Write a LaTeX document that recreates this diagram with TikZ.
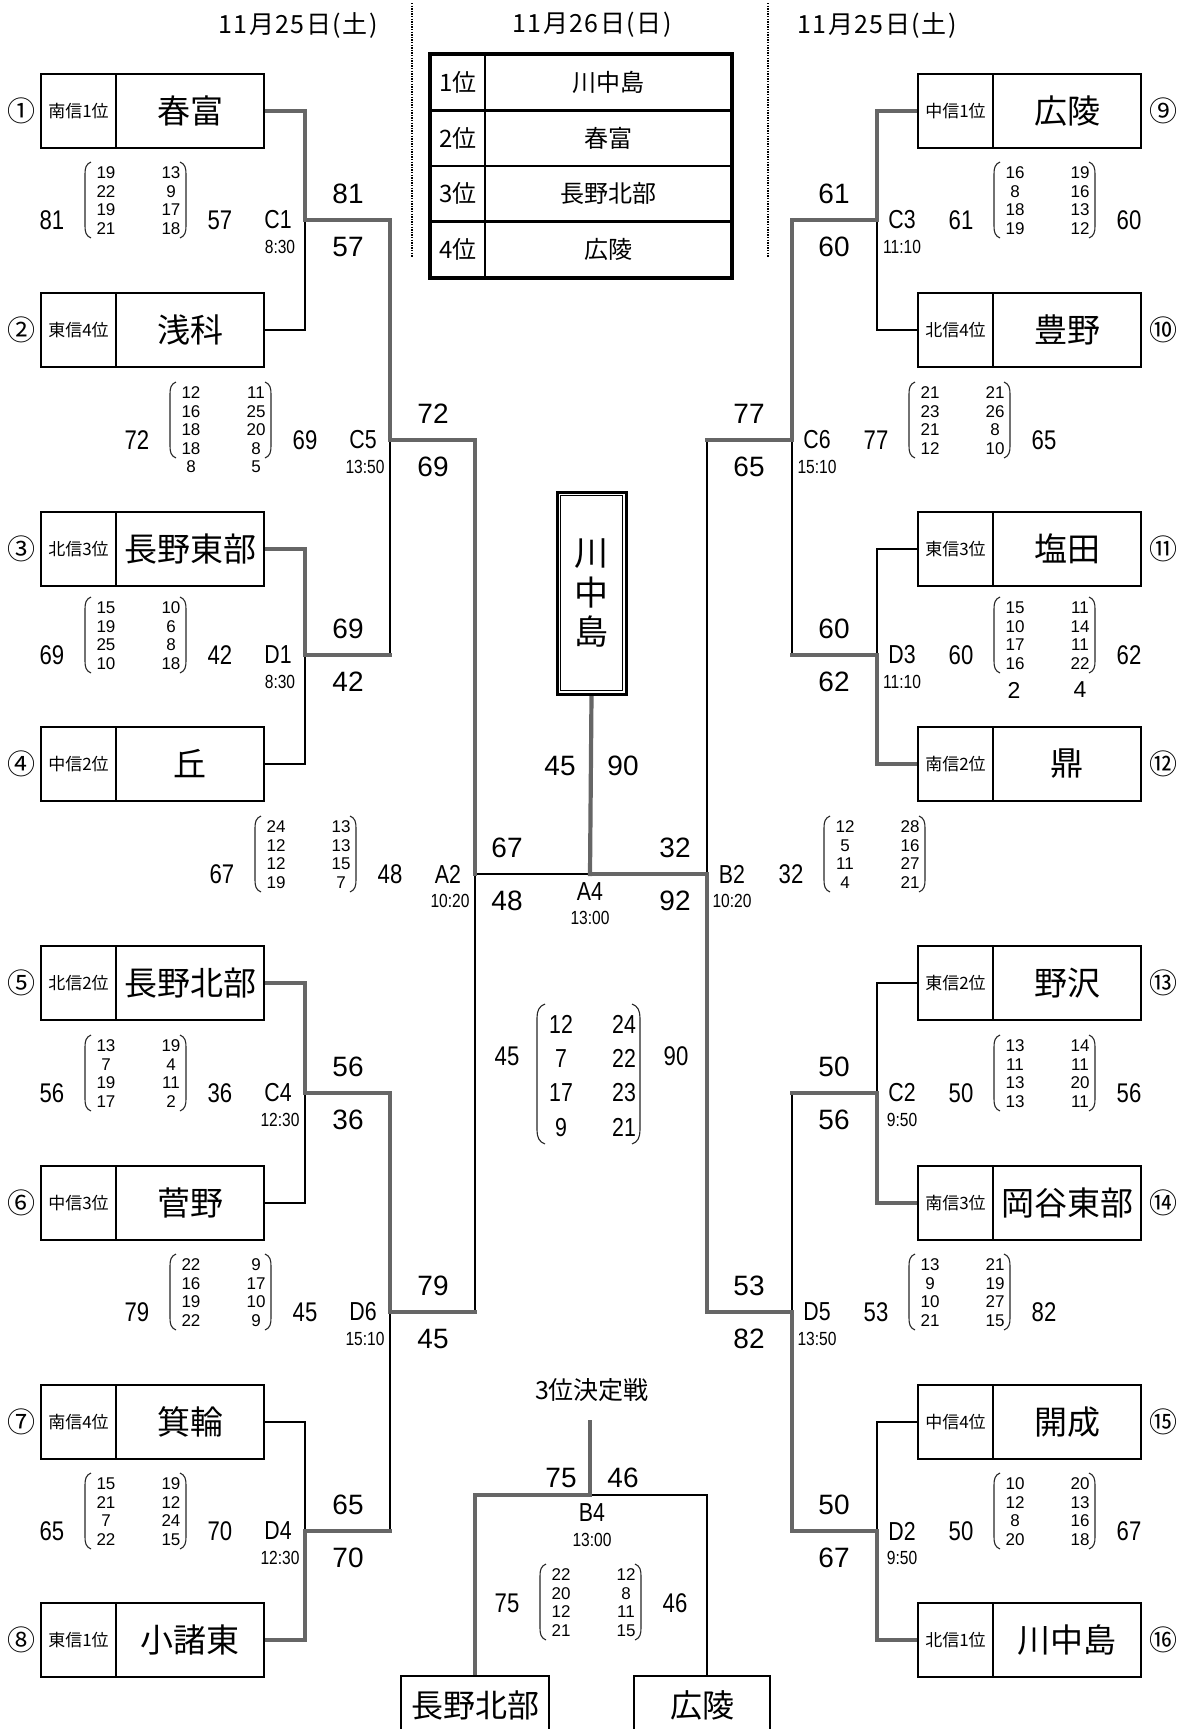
\documentclass[tikz,border=0pt]{standalone}
\usepackage{fontspec}
\setmainfont{Liberation Sans}
\newfontfamily\jp{Noto Sans CJK JP}
\newfontfamily\jphdr[LetterSpace=6]{Noto Sans CJK JP}
\newfontfamily\narrow[FakeStretch=0.82]{Liberation Sans}
\usetikzlibrary{backgrounds}
\definecolor{wingray}{RGB}{102,102,102}
\tikzset{
 win/.style={draw=wingray, line width=4.2pt, line cap=rect},
 lose/.style={draw=black, line width=2.6pt, line cap=rect},
 lab/.style={draw, fill=white, line width=2.6pt, minimum width=75pt, minimum height=74pt, inner sep=0pt, font=\jp\fontsize{17}{17}\selectfont},
 nam/.style={draw, fill=white, line width=2.6pt, minimum width=148pt, minimum height=74pt, inner sep=0pt, font=\jp\fontsize{33}{33}\selectfont},
 circ/.style={inner sep=0pt, font=\jp\fontsize{28}{28}\selectfont},
 score/.style={inner sep=0pt, font=\fontsize{28}{28}\selectfont},
 tot/.style={inner sep=0pt, font=\narrow\fontsize{27}{27}\selectfont},
 setn/.style={inner sep=0pt, font=\fontsize{17}{17}\selectfont},
 setbig/.style={inner sep=0pt, font=\narrow\fontsize{26}{26}\selectfont},
 mlab/.style={inner sep=0pt, font=\narrow\fontsize{26}{26}\selectfont},
 mtime/.style={inner sep=0pt, font=\narrow\fontsize{19}{19}\selectfont},
 paren/.style={draw=black!85, line width=1.1pt},
 hdr/.style={inner sep=0pt, font=\jphdr\fontsize{25}{25}\selectfont},
 ttl/.style={inner sep=0pt, font=\jp\fontsize{25}{25}\selectfont},
 cell/.style={draw, line width=2.4pt, minimum height=55.5pt, inner sep=0pt, font=\jp\fontsize{24}{24}\selectfont},
 bot/.style={draw, fill=white, line width=2.6pt, minimum height=58pt, inner sep=0pt, font=\jp\fontsize{32}{32}\selectfont},
 dotline/.style={draw=black, line width=2.4pt, dash pattern=on 1.4pt off 1.2pt}
}
\newcommand\lteam[5]{%
 \node[lab] (l#1) at (78.5,#2) {#4};
 \node[nam] (n#1) at (190,#2) {#5};
 \node[circ] (c#1) at (21,#2) {#3};}
\newcommand\rteam[5]{%
 \node[lab] (l#1) at (955.5,#2) {#4};
 \node[nam] (n#1) at (1067,#2) {#5};
 \node[circ] (c#1) at (1163,#2) {#3};}
\newcommand\mset[8]{%
 \node[tot] (#1lt) at (#2,#3) {#5};
 \if\relax\detokenize{#8}\relax\else\node[tot] (#1rt) at (#2+168,#3) {#8};\fi
 \foreach \v [count=\i] in {#6}{\node[setn] (#1l\i) at (#2+54,#4-65.5+18.5*\i) {\v};}
 \foreach \v [count=\i] in {#7}{\node[setn] (#1r\i) at (#2+119,#4-65.5+18.5*\i) {\v};}
 \draw[paren] (#2+39,#4-58) .. controls (#2+34,#4-56) and (#2+33,#4-52) .. (#2+33,#4-46) -- (#2+33,#4+6) .. controls (#2+33,#4+12) and (#2+34,#4+16) .. (#2+39,#4+18);
 \draw[paren] (#2+128,#4-58) .. controls (#2+133,#4-56) and (#2+134,#4-52) .. (#2+134,#4-46) -- (#2+134,#4+6) .. controls (#2+134,#4+12) and (#2+133,#4+16) .. (#2+128,#4+18);}
\newcommand\bsc[5]{\node[score] (#1a) at (#2,#3-26) {#4}; \node[score] (#1b) at (#2,#3+27) {#5};}
\newcommand\mlabL[5]{\node[mlab] (#1) at (#2-27,#3) {#4}; \node[mtime] (#1t) at (#2-25,#3+27) {#5};}
\newcommand\mlabR[5]{\node[mlab] (#1) at (#2+25,#3) {#4}; \node[mtime] (#1t) at (#2+25,#3+27) {#5};}
\begin{document}
\begin{tikzpicture}[x=1pt,y=-1pt]
\useasboundingbox (0,0) rectangle (1186,1729);
% headers
\node[hdr] (hd1) at (298,25) {11月25日(土)};
\node[hdr] (hd2) at (592,25) {11月26日(日)};
\node[hdr] (hd3) at (877,25) {11月25日(土)};
\draw[dotline] (412,3) -- (412,257);
\draw[dotline] (768,3) -- (768,257);
% standings table
\foreach \r/\nm [count=\k] in {1位/川中島,2位/春富,3位/長野北部,4位/広陵}{
 \node[cell, minimum width=54pt] (t\k a) at (458,55+55.5*\k-27.75) {\r};
 \node[cell, minimum width=246pt] (t\k b) at (608,55+55.5*\k-27.75) {\nm};}
\draw[line width=4pt] (t1a.north west) rectangle (t4b.south east);
% teams
\lteam{1}{111}{①}{南信1位}{春富}
\lteam{2}{330}{②}{東信4位}{浅科}
\lteam{3}{549}{③}{北信3位}{長野東部}
\lteam{4}{764}{④}{中信2位}{丘}
\lteam{5}{983}{⑤}{北信2位}{長野北部}
\lteam{6}{1203}{⑥}{中信3位}{菅野}
\lteam{7}{1422}{⑦}{南信4位}{箕輪}
\lteam{8}{1640}{⑧}{東信1位}{小諸東}
\rteam{9}{111}{⑨}{中信1位}{広陵}
\rteam{10}{330}{⑩}{北信4位}{豊野}
\rteam{11}{549}{⑪}{東信3位}{塩田}
\rteam{12}{764}{⑫}{南信2位}{鼎}
\rteam{13}{983}{⑬}{東信2位}{野沢}
\rteam{14}{1203}{⑭}{南信3位}{岡谷東部}
\rteam{15}{1422}{⑮}{中信4位}{開成}
\rteam{16}{1640}{⑯}{北信1位}{川中島}
% champion
\node[draw, fill=white, line width=3pt, minimum width=69pt, minimum height=202pt, inner sep=0pt, align=center, font=\jp\fontsize{34}{39.5}\selectfont] (champ) at (591.5,593) {川\\中\\島};
\draw[line width=1.3pt] ([shift={(5pt,-5pt)}]champ.north west) rectangle ([shift={(-5pt,5pt)}]champ.south east);
% bottom boxes
\node[bot, minimum width=148pt] (nb1) at (475,1705) {長野北部};
\node[bot, minimum width=136pt] (nb2) at (702,1705) {広陵};
% junctions
\coordinate (C1) at (305,220); \coordinate (D1) at (305,655);
\coordinate (C4) at (305,1093); \coordinate (D4) at (305,1531);
\coordinate (C5) at (390,440); \coordinate (D6) at (390,1312);
\coordinate (A2) at (475,874); \coordinate (A4) at (590,874);
\coordinate (C3) at (877,220); \coordinate (D3) at (877,655);
\coordinate (C2) at (877,1093); \coordinate (D2) at (877,1531);
\coordinate (C6) at (792,440); \coordinate (D5) at (792,1312);
\coordinate (B2) at (707,874);
\coordinate (B4) at (590,1495); \coordinate (B4top) at (590,1422);
\begin{pgfonlayer}{background}
\draw[lose] (n2.east) -| (C1);
\draw[lose] (n4.east) -| (D1);
\draw[lose] (n6.east) -| (C4);
\draw[lose] (n7.east) -| (D4);
\draw[lose] (l10.west) -| (C3);
\draw[lose] (l11.west) -| (D3);
\draw[lose] (l13.west) -| (C2);
\draw[lose] (l15.west) -| (D2);
\draw[lose] (D1 -| C5) -- (C5);
\draw[lose] (D4 -| D6) -- (D6);
\draw[lose] (D6 -| A2) -- (A2);
\draw[lose] (A2) -- (A4);
\draw[lose] (D3 -| C6) -- (C6);
\draw[lose] (C2 -| D5) -- (D5);
\draw[lose] (C6 -| B2) -- (B2);
\draw[lose] (B4) -| ([xshift=5pt]nb2.north);
\draw[win] (n1.east) -| (C1);
\draw[win] (n3.east) -| (D1);
\draw[win] (n5.east) -| (C4);
\draw[win] (n8.east) -| (D4);
\draw[win] (l9.west) -| (C3);
\draw[win] (l12.west) -| (D3);
\draw[win] (l14.west) -| (C2);
\draw[win] (l16.west) -| (D2);
\draw[win] (C1) -| (C5);
\draw[win] (D1) -- (D1 -| C5);
\draw[win] (C4) -| (D6);
\draw[win] (D4) -- (D4 -| D6);
\draw[win] (C5) -| (A2);
\draw[win] (D6) -- (D6 -| A2);
\draw[win] (C3) -| (C6);
\draw[win] (D3) -- (D3 -| C6);
\draw[win] (C2) -- (C2 -| D5);
\draw[win] (D2) -| (D5);
\draw[win] (C6) -- (C6 -| B2);
\draw[win] (D5) -| (B2);
\draw[win] (B2) -- (A4);
\draw[win] (A4) -- (champ.south);
\draw[win] (B4top) -- (B4) -| (nb1.north);
\end{pgfonlayer}
% bracket scores
\bsc{scC1}{348}{220}{81}{57}
\bsc{scC5}{433}{440}{72}{69}
\bsc{scD1}{348}{655}{69}{42}
\bsc{scA2}{507}{874}{67}{48}
\bsc{scC4}{348}{1093}{56}{36}
\bsc{scD6}{433}{1312}{79}{45}
\bsc{scD4}{348}{1531}{65}{70}
\bsc{scC3}{834}{220}{61}{60}
\bsc{scC6}{749}{440}{77}{65}
\bsc{scD3}{834}{655}{60}{62}
\bsc{scB2}{675}{874}{32}{92}
\bsc{scC2}{834}{1093}{50}{56}
\bsc{scD5}{749}{1312}{53}{82}
\bsc{scD2}{834}{1531}{50}{67}
% match labels
\mlabL{lbC1}{305}{220}{C1}{8:30}
\mlabL{lbC5}{390}{440}{C5}{13:50}
\mlabL{lbD1}{305}{655}{D1}{8:30}
\mlabL{lbA2}{475}{874}{A2}{10:20}
\mlabL{lbC4}{305}{1093}{C4}{12:30}
\mlabL{lbD6}{390}{1312}{D6}{15:10}
\mlabL{lbD4}{305}{1531}{D4}{12:30}
\mlabR{lbC3}{877}{220}{C3}{11:10}
\mlabR{lbC6}{792}{440}{C6}{15:10}
\mlabR{lbD3}{877}{655}{D3}{11:10}
\mlabR{lbB2}{707}{874}{B2}{10:20}
\mlabR{lbC2}{877}{1093}{C2}{9:50}
\mlabR{lbD5}{792}{1312}{D5}{13:50}
\mlabR{lbD2}{877}{1531}{D2}{9:50}
\node[mlab] (lbA4) at (590,892) {A4};
\node[mtime] (lbA4t) at (590,918) {13:00};
\node[mlab] (lbB4) at (592,1513) {B4};
\node[mtime] (lbB4t) at (592,1540) {13:00};
% set scores
\mset{sC1}{52}{220}{220}{81}{19,22,19,21}{13,9,17,18}{57}
\mset{sC5}{137}{440}{440}{72}{12,16,18,18,8}{11,25,20,8,5}{69}
\mset{sD1}{52}{655}{655}{69}{15,19,25,10}{10,6,8,18}{42}
\mset{sA2}{222}{874}{874}{67}{24,12,12,19}{13,13,15,7}{48}
\mset{sC4}{52}{1093}{1093}{56}{13,7,19,17}{19,4,11,2}{36}
\mset{sD6}{137}{1312}{1312}{79}{22,16,19,22}{9,17,10,9}{45}
\mset{sD4}{52}{1531}{1531}{65}{15,21,7,22}{19,12,24,15}{70}
\mset{sC3}{961}{220}{220}{61}{16,8,18,19}{19,16,13,12}{60}
\mset{sC6}{876}{440}{440}{77}{21,23,21,12}{21,26,8,10}{65}
\mset{sD3}{961}{655}{655}{60}{15,10,17,16}{11,14,11,22}{62}
\mset{sB2}{791}{874}{874}{32}{12,5,11,4}{28,16,27,21}{}
\mset{sC2}{961}{1093}{1093}{50}{13,11,13,13}{14,11,20,11}{56}
\mset{sD5}{876}{1312}{1312}{53}{13,9,10,21}{21,19,27,15}{82}
\mset{sD2}{961}{1531}{1531}{50}{10,12,8,20}{20,13,16,18}{67}
\mset{sB4}{507}{1603}{1622}{75}{22,20,12,21}{12,8,11,15}{46}
\node[inner sep=0pt, font=\fontsize{23}{23}\selectfont] (otD3a) at (1014,690) {2};
\node[inner sep=0pt, font=\fontsize{23}{23}\selectfont] (otD3b) at (1080,690) {4};
% final
\node[score] (f45) at (560,766) {45};
\node[score] (f90) at (623,766) {90};
\node[tot] (fa) at (507,1056) {45};
\node[tot] (fb) at (676,1056) {90};
\foreach \a/\b [count=\i] in {12/24,7/22,17/23,9/21}{
 \node[setbig] (fl\i) at (561,989.5+34.5*\i) {\a};
 \node[setbig] (fr\i) at (624,989.5+34.5*\i) {\b};}
\draw[paren] (545,1004) .. controls (539,1006) and (537,1011) .. (537,1018) -- (537,1130) .. controls (537,1137) and (539,1142) .. (545,1144);
\draw[paren] (632,1004) .. controls (638,1006) and (640,1011) .. (640,1018) -- (640,1130) .. controls (640,1137) and (638,1142) .. (632,1144);
% third place
\node[ttl] (third) at (592,1390) {3位決定戦};
\node[score] (t75) at (561,1478) {75};
\node[score] (t46) at (623,1478) {46};
\end{tikzpicture}
\end{document}
